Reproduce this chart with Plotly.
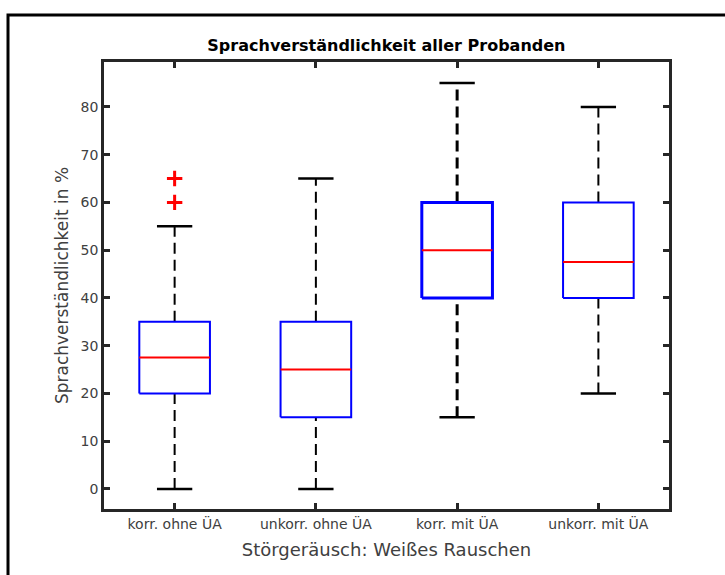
import plotly.graph_objects as go

# Speech intelligibility summary per condition (percent)
categories = ["korr. ohne ÜA", "unkorr. ohne ÜA", "korr. mit ÜA", "unkorr. mit ÜA"]
q1 = [20, 15, 40, 40]
median = [27.5, 25, 50, 47.5]
q3 = [35, 35, 60, 60]
lower_whisker = [0, 0, 15, 20]
upper_whisker = [55, 65, 85, 80]
outliers = [[60, 65], [], [], []]
y_ticks = [0, 10, 20, 30, 40, 50, 60, 70, 80]

BOX_HALF = 0.25
CAP_HALF = 0.125
box_lw = [2, 2, 3, 2]
whisk_lw = [2, 2, 3, 2]

FONT = "DejaVu Sans, Liberation Sans, Arial, sans-serif"

fig = go.Figure()

for i, name in enumerate(categories):
    x = i + 1
    # whiskers (dashed)
    fig.add_trace(go.Scatter(
        x=[x, x, None, x, x],
        y=[q3[i], upper_whisker[i], None, lower_whisker[i], q1[i]],
        mode="lines", line=dict(color="black", width=whisk_lw[i], dash="11px,6px"),
        hoverinfo="skip", showlegend=False))
    # caps
    fig.add_trace(go.Scatter(
        x=[x - CAP_HALF, x + CAP_HALF, None, x - CAP_HALF, x + CAP_HALF],
        y=[upper_whisker[i], upper_whisker[i], None, lower_whisker[i], lower_whisker[i]],
        mode="lines", line=dict(color="black", width=2.5),
        hoverinfo="skip", showlegend=False))
    # box
    fig.add_trace(go.Scatter(
        x=[x - BOX_HALF, x + BOX_HALF, x + BOX_HALF, x - BOX_HALF, x - BOX_HALF],
        y=[q1[i], q1[i], q3[i], q3[i], q1[i]],
        mode="lines", line=dict(color="#0000ff", width=box_lw[i]),
        hoverinfo="skip", showlegend=False))
    # median
    fig.add_trace(go.Scatter(
        x=[x - BOX_HALF, x + BOX_HALF],
        y=[median[i], median[i]],
        mode="lines", line=dict(color="#ff0000", width=2),
        hoverinfo="skip", showlegend=False))
    # outliers
    if outliers[i]:
        fig.add_trace(go.Scatter(
            x=[x] * len(outliers[i]), y=outliers[i],
            mode="markers",
            marker=dict(symbol="cross-thin", size=11, color="#ff0000",
                        line=dict(color="#ff0000", width=3)),
            hoverinfo="skip", showlegend=False))

axis_common = dict(
    showline=True, linewidth=2.5, linecolor="#262626", mirror="ticks",
    ticks="inside", ticklen=6, tickwidth=2.5, tickcolor="#262626",
    showgrid=False, zeroline=False,
    tickfont=dict(family=FONT, size=14, color="#404040"),
)

fig.update_xaxes(
    range=[0.5, 4.5], tickvals=[1, 2, 3, 4], ticktext=categories,
    title=dict(text="Störgeräusch: Weißes Rauschen", standoff=13,
               font=dict(family=FONT, size=18, color="#404040")),
    **axis_common)
fig.update_yaxes(
    range=[-4.2, 89.4], tickvals=y_ticks,
    title=dict(text="Sprachverständlichkeit in %", standoff=8,
               font=dict(family=FONT, size=17, color="#404040")),
    **axis_common)

# figure frame
fig.add_shape(type="rect", xref="paper", yref="paper",
              x0=-0.1699, x1=1.12, y0=-0.17, y1=1.1051,
              line=dict(color="black", width=3), fillcolor="rgba(0,0,0,0)", layer="above")

fig.update_layout(
    width=725, height=575,
    margin=dict(l=104, r=56, t=62, b=66),
    paper_bgcolor="white", plot_bgcolor="white",
    title=dict(text="<b>Sprachverständlichkeit aller Probanden</b>",
               x=0.533, xanchor="center", y=0.921, yanchor="middle",
               font=dict(family=FONT, size=16, color="black")),
)

fig.write_html("out.html")
